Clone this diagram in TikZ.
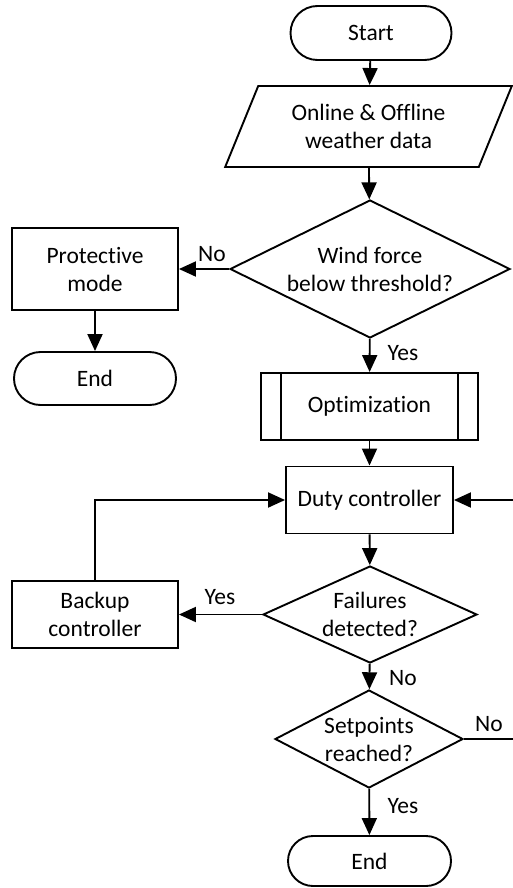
\documentclass[tikz,border=0pt]{standalone}
\usepackage{fontspec}
\setmainfont[Ligatures=NoCommon]{Carlito}
\usetikzlibrary{positioning, arrows.meta, shapes.geometric, shapes.misc}
\tikzset{
  term/.style={rounded rectangle, draw, line width=1.9pt, align=center,
               minimum width=165pt, minimum height=54pt, inner sep=2pt},
  data/.style={trapezium, trapezium left angle=64, trapezium right angle=116,
               trapezium stretches=true, draw, line width=1.9pt, align=center,
               minimum width=287pt, minimum height=81pt, inner sep=2pt},
  proc/.style={rectangle, draw, line width=1.9pt, align=center,
               minimum width=166pt, minimum height=67pt, inner sep=2pt},
  cond/.style={diamond, draw, line width=1.9pt, align=center, inner sep=-4pt},
  lbl/.style={inner sep=1pt},
  arr/.style={-{Triangle[length=17pt, width=15pt]}, line width=1.9pt},
}
\begin{document}
\begin{tikzpicture}[x=1pt, y=-1pt, font=\fontsize{23.5}{28}\selectfont]
  \useasboundingbox (0,0) rectangle (513,888);
  \node[term] (start) at (371,33) {Start};
  \node[data] (weather) at (368.5,126.5) {Online \& Offline\\weather data};
  \node[cond, aspect=2.03, minimum width=280pt, minimum height=138pt] (wind) at (370,269) {Wind force\\below threshold?};
  \node[proc, minimum height=82pt] (protect) at (95,269) {Protective\\mode};
  \node[term, minimum width=166pt, minimum height=53pt] (end1) at (95,378.5) {End};
  \node[proc, minimum width=217pt] (opt) at (369.5,406.5) {Optimization};
  \draw[line width=1.9pt] ([xshift=21pt]opt.north west) -- ([xshift=21pt]opt.south west);
  \draw[line width=1.9pt] ([xshift=-21pt]opt.north east) -- ([xshift=-21pt]opt.south east);
  \node[proc, minimum width=167pt] (duty) at (369.5,500) {Duty controller};
  \node[cond, aspect=2.2, minimum width=214pt, minimum height=97pt] (fail) at (370,614.5) {Failures\\detected?};
  \node[proc] (backup) at (95,614.5) {Backup\\controller};
  \node[cond, aspect=1.92, minimum width=188pt, minimum height=98pt] (setp) at (369,739) {Setpoints\\reached?};
  \node[term, minimum width=167pt, minimum height=50pt] (end2) at (369.5,861) {End};
  \coordinate (ret) at (514,739);

  \draw[arr] (start) -- (weather);
  \draw[arr] (weather) -- (wind);
  \draw[arr] (wind) -- (protect);
  \draw[arr] (protect) -- (end1);
  \draw[arr] (wind) -- (opt);
  \draw[arr] (opt) -- (duty);
  \draw[arr] (duty) -- (fail);
  \draw[arr] (fail) -- (backup);
  \draw[arr] (backup.north) |- (duty.west);
  \draw[arr] (fail) -- (setp);
  \draw[arr] (setp) -- (end2);
  \draw[arr] (setp.east) -- (ret) |- (duty.east);

  \node[lbl] at (212,254) {No};
  \node[lbl] at (403,353) {Yes};
  \node[lbl] at (220,597) {Yes};
  \node[lbl] at (403,678) {No};
  \node[lbl] at (489,724) {No};
  \node[lbl] at (403,806) {Yes};
\end{tikzpicture}
\end{document}
